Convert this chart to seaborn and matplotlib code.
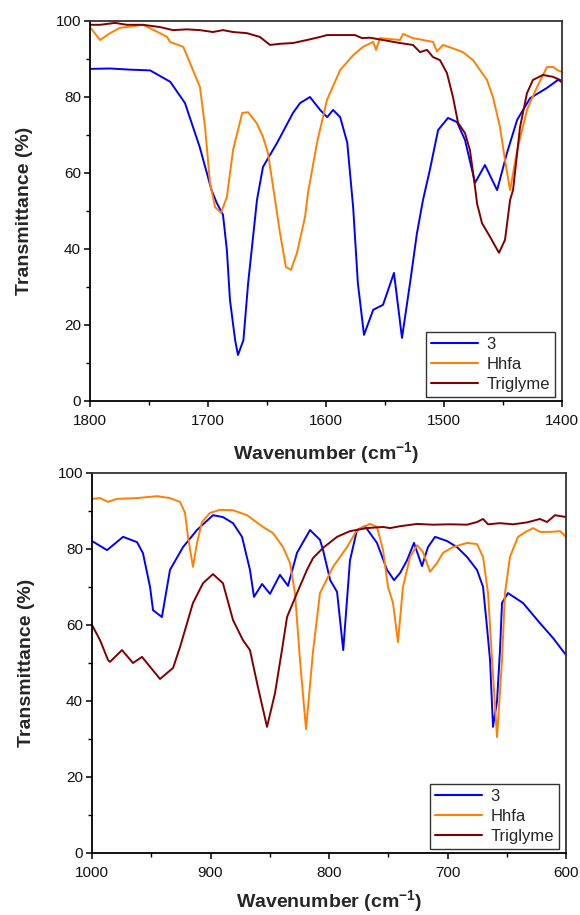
import matplotlib
matplotlib.use("Agg")
import matplotlib.pyplot as plt
import seaborn as sns
import pandas as pd
from matplotlib.ticker import MultipleLocator
from matplotlib.lines import Line2D

# ---------------- data ----------------
series_names = ["3", "Hhfa", "Triglyme"]
series_colors = ["#0000FF", "#FF8000", "#800000"]

# Top panel (1800-1400 cm-1)
top_wn_3 = [1800, 1783, 1766, 1749, 1732, 1719.5, 1707, 1697, 1692.4, 1687.3, 1684, 1681.4,
            1677, 1674.6, 1670, 1666, 1663, 1658.5, 1653.4, 1641.5, 1628, 1622, 1613.6, 1605,
            1599, 1594, 1588, 1582, 1577, 1573, 1567.8, 1560, 1551.7, 1542.4, 1535.6, 1528.8,
            1523, 1517.8, 1512, 1505, 1496.6, 1489, 1482.2, 1473.7, 1465.3, 1455, 1446.6,
            1438, 1427, 1412.7, 1403.4, 1400]
top_t_3 = [87.4, 87.5, 87.2, 87.0, 84, 78.4, 66.8, 55.5, 52, 49, 39.7, 26.6,
           16, 12.1, 16, 31, 39.7, 52.9, 61.6, 67.9, 75.8, 78.4, 80, 76.6,
           74.7, 76.6, 74.7, 68, 51, 31, 17.4, 24, 25.3, 33.7, 16.6, 31,
           44, 52.9, 60.8, 71.3, 74.5, 73.4, 68.7, 57.4, 62.1, 55.5, 65.3,
           74, 79.7, 82.4, 84.5, 84]

top_wn_hhfa = [1800, 1791.5, 1783, 1774.6, 1755, 1740.7, 1734.7, 1732.2, 1721, 1715.3, 1706.8,
               1702.5, 1698.3, 1694, 1689, 1684, 1678.8, 1671, 1666, 1658.5, 1653.4, 1649.2,
               1643.2, 1639, 1634, 1629.7, 1624.6, 1617.8, 1615.3, 1607.6, 1599.2, 1588, 1577,
               1568.6, 1560, 1557.6, 1554.2, 1537.3, 1534.7, 1526.3, 1517.8, 1509.3, 1506,
               1500.8, 1489, 1484, 1475.4, 1469.5, 1463.6, 1458.5, 1452.5, 1448.3, 1444, 1438,
               1429.7, 1421.2, 1412.7, 1407.6, 1403.4, 1400]
top_t_hhfa = [98.4, 95, 96.8, 98.2, 99, 96.8, 95.8, 94.5, 93.2, 89, 82.6,
              72, 57.4, 51, 49.5, 53.7, 66, 75.8, 76, 73, 69.5, 65.3,
              53, 44.2, 35.3, 34.5, 39, 48.4, 54.7, 68, 79.2, 87.1, 91,
              93.2, 94.5, 92.4, 95.5, 95, 96.6, 95.5, 95, 94.5, 92,
              93.7, 92.4, 91.8, 89.7, 87.1, 84.5, 80, 72, 63.4, 55.5, 66,
              76.6, 82.6, 87.9, 87.9, 87, 86.6]

top_wn_trig = [1800, 1791.5, 1778.8, 1768.6, 1755, 1740.7, 1729.7, 1717.8, 1706.8, 1695.8,
               1687.3, 1678.8, 1667, 1656, 1647.5, 1639, 1628, 1616.1, 1605, 1599.2, 1585.6,
               1575.4, 1569.5, 1562.7, 1551.7, 1537.3, 1526.3, 1520.3, 1514.4, 1509.3, 1503.4,
               1497.5, 1492.4, 1488.1, 1482.2, 1478, 1473.7, 1472, 1467.8, 1461, 1453.4,
               1448.3, 1444, 1441.5, 1435.6, 1429.7, 1424.6, 1416.1, 1407.6, 1401.7, 1400]
top_t_trig = [99, 99, 99.5, 99, 99, 98.4, 97.6, 97.8, 97.6, 97.1,
              97.6, 97.1, 96.8, 95.8, 93.7, 94.0, 94.2, 95, 95.8, 96.3, 96.3,
              96.3, 95.5, 95.6, 95, 94.2, 93.7, 91.8, 92.4, 90.5, 89.7,
              86.3, 80, 73.2, 70.5, 66, 56.3, 52, 46.8, 43.2, 39,
              42.4, 52.9, 55.5, 72, 81, 84.5, 85.8, 85.3, 84.5, 83.7]

# Bottom panel (1000-600 cm-1)
bot_wn_3 = [1000, 987.3, 973.8, 962, 957, 951, 948.5, 941, 934.2, 923.2, 911.4, 897.9, 889.5,
            881, 873.4, 866.7, 863.3, 856.5, 849.8, 841.4, 834.6, 827, 816, 807.6, 805, 799,
            793.2, 788, 782.3, 776.4, 769.6, 759.5, 751, 745.1, 740, 734.2, 728.3, 721.5,
            716.5, 710.5, 700.4, 692, 683.5, 675.1, 670, 666.7, 664.1, 661.6, 658.2, 655.7,
            654, 649, 636.3, 622, 611, 600]
bot_t_3 = [82.1, 79.7, 83.2, 81.8, 78.9, 70, 63.9, 62.1, 74.5, 80.5, 85, 88.9, 88.4,
           86.8, 83.2, 74.5, 67.4, 70.8, 68.2, 73.2, 70.3, 79, 85, 82.4, 79.7, 71.8,
           68.7, 53.4, 77, 85, 86, 81.6, 74.5, 71.8, 73.7, 77, 81.6, 75.5,
           80.5, 83.2, 82.1, 80.5, 77.9, 74.5, 70, 59.5, 50.8, 33.2, 40, 53.4,
           65.8, 68.4, 65.8, 60.5, 56.6, 52.1]

bot_wn_hhfa = [1000, 993.2, 986.5, 978.9, 962, 945.1, 934.2, 925.7, 921.5, 919, 914.8, 911.4,
               907.2, 900.4, 892, 881, 869.2, 855.7, 847.3, 838.8, 832.9, 828.7, 824.5, 819.4,
               813.5, 807.6, 796.6, 784.8, 776.4, 765.4, 759.5, 754.4, 750.2, 746, 741.8,
               737.6, 731.6, 725.7, 720.7, 714.8, 708.9, 703.8, 695.4, 683.5, 675.1, 670,
               665.8, 662.4, 658.2, 654, 651.5, 647.3, 640.5, 632.9, 627.8, 622, 613.5, 605, 600]
bot_t_hhfa = [93.2, 93.4, 92.4, 93.2, 93.4, 93.9, 93.4, 92.4, 89.5, 83.2, 75.3, 81.6,
              87.1, 89.5, 90.3, 90.2, 88.9, 85.8, 84.2, 80.5, 76.3, 68.4, 50.8, 32.6,
              53, 68.4, 75.3, 80.5, 85, 86.6, 85.8, 79.7, 70, 65.8, 55.5,
              70, 77.9, 81, 79.2, 74, 76.3, 79, 80.5, 81.6, 81.3, 77.9,
              68.4, 50.8, 30.5, 50.8, 68.4, 77.9, 83.2, 84.7, 85.5, 84.5, 84.5, 84.7, 83.2]

bot_wn_trig = [1000, 993.2, 986.5, 984.8, 974.7, 965.4, 957.8, 951, 942.6, 931.6, 925.7, 914.8,
               906.3, 897.9, 889.5, 881, 872.6, 866.7, 860, 852.3, 845.6, 839.7, 835.4, 827,
               818.6, 813.5, 805, 793.2, 782.3, 768, 754.4, 748.5, 740, 725.7, 712.2, 697.9,
               683.5, 675.1, 670, 665.8, 655.7, 644.7, 632.9, 622, 616, 609.3, 600]
bot_t_trig = [60, 56, 50.8, 50.3, 53.4, 50, 51.6, 49, 45.8, 48.7, 54.2, 65.8,
              71, 73.4, 71, 61.3, 56, 53.4, 43.7, 33.2, 42, 53.4, 62.1, 68.4,
              74.5, 77.6, 80.3, 83.2, 84.7, 85.5, 85.8, 85.5, 86, 86.6, 86.4, 86.5,
              86.4, 87.1, 87.9, 86.5, 86.8, 86.5, 87, 87.9, 87.1, 88.9, 88.4]

top_xticks = [1800, 1700, 1600, 1500, 1400]
bot_xticks = [1000, 900, 800, 700, 600]
yticks = [0, 20, 40, 60, 80, 100]


def make_df(wns, ts):
    frames = []
    for name, w, t in zip(series_names, wns, ts):
        frames.append(pd.DataFrame({"wn": w, "T": t, "series": name}))
    return pd.concat(frames, ignore_index=True)


top_df = make_df([top_wn_3, top_wn_hhfa, top_wn_trig], [top_t_3, top_t_hhfa, top_t_trig])
bot_df = make_df([bot_wn_3, bot_wn_hhfa, bot_wn_trig], [bot_t_3, bot_t_hhfa, bot_t_trig])

# ---------------- style ----------------
sns.set_theme(style="ticks")
plt.rcParams["font.family"] = ["Liberation Sans", "DejaVu Sans"]
plt.rcParams["mathtext.fontset"] = "custom"
plt.rcParams["mathtext.rm"] = "Liberation Sans"
plt.rcParams["mathtext.bf"] = "Liberation Sans:bold"

fig = plt.figure(figsize=(5.8, 9.15), dpi=100)
W, H = 580, 915


def add_axes(l, r, t, b):
    return fig.add_axes([l / W, 1 - b / H, (r - l) / W, (b - t) / H])


ax1 = add_axes(90, 562, 21, 401)
ax2 = add_axes(92, 566, 473, 853)

palette = dict(zip(series_names, series_colors))

for ax, df, xt, xlim, xpad in [(ax1, top_df, top_xticks, (1800, 1400), 9),
                               (ax2, bot_df, bot_xticks, (1000, 600), 6)]:
    sns.lineplot(data=df, x="wn", y="T", hue="series", palette=palette,
                 hue_order=series_names, sort=False, estimator=None,
                 linewidth=1.4, ax=ax, legend=False)
    for ln in ax.get_lines():
        ln.set_solid_joinstyle("round")
        ln.set_solid_capstyle("round")
    ax.set_xlim(*xlim)
    ax.set_ylim(0, 100)
    ax.set_xticks(xt)
    ax.set_yticks(yticks)
    ax.xaxis.set_minor_locator(MultipleLocator(50))
    ax.yaxis.set_minor_locator(MultipleLocator(10))
    ax.tick_params(axis="both", which="major", direction="out", length=4.5, width=1.1,
                   labelsize=11, color="black", labelcolor="#111111")
    ax.tick_params(axis="x", which="major", pad=5)
    ax.tick_params(axis="y", which="major", pad=2)
    ax.tick_params(axis="both", which="minor", direction="out", length=3, width=1.0,
                   color="black")
    for s in ["left", "bottom"]:
        ax.spines[s].set_color("black")
        ax.spines[s].set_linewidth(1.3)
    for s in ["top", "right"]:
        ax.spines[s].set_visible(True)
        ax.spines[s].set_color("#333333")
        ax.spines[s].set_linewidth(1.3)
    ax.set_xlabel(r"Wavenumber (cm$^{\mathbf{-1}}$)", fontsize=14, fontweight="bold",
                  labelpad=xpad)
    ax.set_ylabel("Transmittance (%)", fontsize=14, fontweight="bold", labelpad=16)
    handles = [Line2D([0], [0], color=c, lw=1.5) for c in series_colors]
    leg = ax.legend(handles, series_names, loc="lower right", bbox_to_anchor=(0.985, 0.01),
                    borderaxespad=0, fontsize=12, frameon=True, fancybox=False,
                    handlelength=2.8, handletextpad=0.5, labelspacing=0.3,
                    borderpad=0.3)
    leg.get_frame().set_edgecolor("black")
    leg.get_frame().set_linewidth(1.0)

fig.savefig("out.png", dpi=100)
